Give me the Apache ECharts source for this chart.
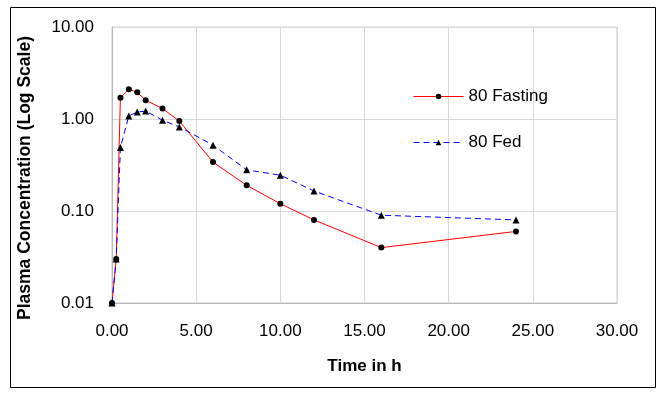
<!DOCTYPE html>
<html>
<head>
<meta charset="utf-8">
<script src="https://cdn.jsdelivr.net/npm/echarts@6/dist/echarts.min.js"></script>
<style>html,body{margin:0;padding:0;background:#fff}#c{width:665px;height:394px}</style>
</head>
<body>
<div id="c"></div>
<script>
var timeH = [0, 0.25, 0.5, 1, 1.5, 2, 3, 4, 6, 8, 10, 12, 16, 24];
var fasting = [0.01, 0.03, 1.7, 2.1, 1.95, 1.6, 1.3, 0.95, 0.34, 0.19, 0.12, 0.08, 0.04, 0.06];
var fed = [0.01, 0.03, 0.49, 1.08, 1.19, 1.22, 0.97, 0.82, 0.52, 0.28, 0.245, 0.165, 0.09, 0.08];
var seriesNames = ['80 Fasting', '80 Fed'];

function pairs(xs, ys) { return xs.map(function (x, i) { return [x, ys[i]]; }); }

var font = '"Liberation Sans", Arial, sans-serif';
var chart = echarts.init(document.getElementById('c'), null, { renderer: 'canvas' });
chart.setOption({
  animation: false,
  backgroundColor: '#ffffff',
  grid: { left: 112, right: 48, top: 27, bottom: 91, show: true, borderColor: '#c8c8c8', borderWidth: 1 },
  xAxis: {
    type: 'value', min: 0, max: 30, interval: 5,
    name: 'Time in h', nameLocation: 'middle', nameGap: 55,
    nameTextStyle: { fontFamily: font, fontSize: 17, fontWeight: 'bold', color: '#000' },
    axisLine: { show: true, lineStyle: { color: '#b8b8b8' } },
    axisTick: { show: false },
    axisLabel: { margin: 20, fontFamily: font, fontSize: 17, color: '#000', formatter: function (v) { return v.toFixed(2); } },
    splitLine: { show: true, lineStyle: { color: '#d9d9d9' } }
  },
  yAxis: {
    type: 'log', logBase: 10, min: 0.01, max: 10,
    name: 'Plasma Concentration (Log Scale)', nameLocation: 'middle', nameGap: 78, nameRotate: 90,
    nameTextStyle: { fontFamily: font, fontSize: 17.5, fontWeight: 'bold', color: '#000', padding: [0, 26, 0, 0] },
    axisLine: { show: true, lineStyle: { color: '#b8b8b8' } },
    axisTick: { show: false },
    minorTick: { show: false },
    axisLabel: { margin: 18, fontFamily: font, fontSize: 17, color: '#000', formatter: function (v) { return Number(v).toFixed(2); } },
    splitLine: { show: true, lineStyle: { color: '#d9d9d9' } }
  },
  legend: {
    orient: 'vertical', left: 413, top: 88, padding: 0, itemWidth: 50, itemHeight: 7, itemGap: 29,
    textStyle: { fontFamily: font, fontSize: 17, color: '#000' },
    data: [
      { name: seriesNames[0], lineStyle: { color: '#ff0000', width: 1 }, itemStyle: { color: '#000' } },
      { name: seriesNames[1], lineStyle: { color: '#0000ff', width: 1, type: [6, 4] }, itemStyle: { color: '#000' } }
    ]
  },
  series: [
    {
      name: seriesNames[0], type: 'line', data: pairs(timeH, fasting),
      symbol: 'circle', symbolSize: 6,
      lineStyle: { color: '#ff0000', width: 1 },
      itemStyle: { color: '#000000' }
    },
    {
      name: seriesNames[1], type: 'line', data: pairs(timeH, fed),
      symbol: 'triangle', symbolSize: 7,
      lineStyle: { color: '#0000ff', width: 1, type: [6, 4] },
      itemStyle: { color: '#000000' }
    }
  ],
  graphic: [
    { type: 'rect', shape: { x: 10.5, y: 7.5, width: 645, height: 380 }, style: { fill: 'none', stroke: '#000', lineWidth: 1 }, silent: true }
  ]
});
</script>
</body>
</html>
